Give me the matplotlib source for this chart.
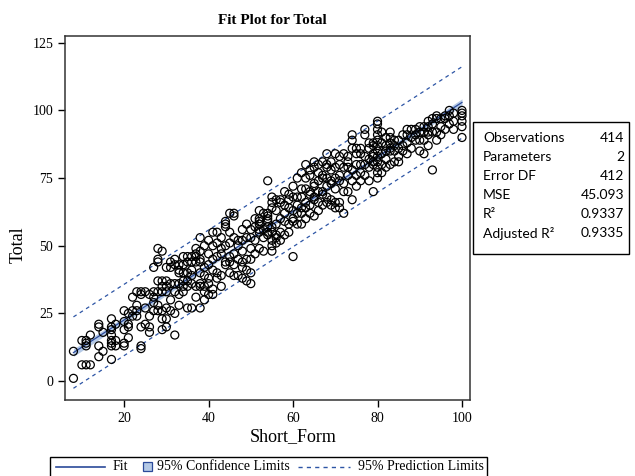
import numpy as np
import matplotlib.pyplot as plt
from matplotlib.lines import Line2D
from matplotlib.patches import Rectangle

form_scores = [8, 10, 11, 12, 14, 15, 17, 18, 20, 21, 22, 23, 24, 25, 26, 27, 28, 29,
               30, 31, 32, 33, 34, 35, 36, 37, 38, 39, 40, 41, 42, 43, 44, 45, 46, 47,
               48, 49, 50, 51, 52, 53, 54, 55, 56, 57, 58, 59, 60, 61, 62, 63, 64,
               65, 66, 67, 68, 69, 70, 71, 72, 73, 74, 75, 76, 77, 78, 79, 80, 81,
               82, 83, 84, 85, 86, 87, 88, 89, 90, 91, 92, 93, 94, 95, 96, 97, 98,
               100]
total_scores = [
    [1, 11], [6, 15], [6, 13, 14, 15], [6, 17], [9, 13, 20, 21], [11, 18],
    [8, 13, 14, 15, 17, 19, 20, 23], [13, 15, 21], [13, 14, 19, 22, 26],
    [16, 20, 21, 25], [24, 26, 31], [24, 26, 28, 33], [12, 13, 20, 32, 33],
    [21, 27, 33], [18, 20, 24, 32], [26, 29, 31, 33, 42],
    [26, 28, 33, 37, 44, 45, 49], [19, 23, 26, 33, 35, 37, 48],
    [20, 23, 27, 33, 35, 37, 42], [26, 30, 36, 42, 44], [17, 25, 33, 36, 43, 45],
    [28, 32, 36, 40, 41, 43], [33, 35, 37, 40, 43, 46], [27, 35, 37, 40, 44, 46],
    [27, 36, 39, 41, 44, 46], [31, 35, 44, 46, 47, 49],
    [27, 35, 36, 40, 44, 45, 48, 53], [30, 33, 35, 39, 42, 50],
    [32, 36, 38, 43, 47, 52], [32, 34, 41, 45, 50, 55], [38, 40, 46, 51, 55],
    [35, 39, 47, 49, 53], [43, 44, 50, 57, 58, 59], [40, 44, 46, 51, 55, 62],
    [39, 43, 47, 53, 61, 62], [39, 45, 50, 52], [38, 42, 44, 48, 52, 56],
    [37, 41, 45, 53, 58], [36, 40, 45, 49, 53, 56], [47, 52, 57, 60],
    [49, 55, 56, 58, 59, 60, 63], [48, 53, 56, 62], [54, 55, 57, 59, 60, 61, 62, 74],
    [48, 50, 52, 55, 57, 64, 66, 68], [51, 53, 54, 58, 63, 67], [52, 55, 60, 66, 67],
    [54, 59, 62, 65, 70], [55, 58, 64, 67, 69], [46, 59, 60, 63, 68, 72],
    [58, 62, 65, 68, 75], [58, 62, 64, 68, 71, 77], [60, 64, 66, 71, 75, 80],
    [62, 65, 69, 70, 76, 78], [61, 67, 68, 72, 73, 79, 81], [63, 66, 70, 74, 77, 80],
    [65, 69, 70, 75, 76, 81], [66, 68, 72, 75, 79, 80, 84], [65, 67, 73, 74, 78, 81],
    [64, 66, 71, 75, 79, 84], [64, 66, 74, 76, 80, 83], [62, 70, 73, 79, 84],
    [70, 76, 79, 81, 83], [67, 74, 78, 86, 89, 91], [72, 76, 80, 84, 86],
    [74, 77, 80, 84, 86], [76, 80, 83, 91, 93], [74, 79, 82, 86, 88],
    [70, 80, 81, 83, 84, 87, 88],
    [75, 77, 79, 81, 83, 85, 87, 89, 91, 93, 95, 96], [77, 80, 84, 88, 92],
    [79, 82, 85, 87, 90], [80, 85, 86, 88, 90, 92], [81, 85, 87, 89], [81, 83, 86, 89],
    [85, 87, 91], [84, 88, 91, 93], [86, 90, 93], [89, 91, 93], [85, 89, 92, 94],
    [84, 89, 92, 94], [87, 91, 92, 94, 96], [78, 92, 95, 97], [89, 92, 97, 98],
    [91, 94, 97], [93, 97, 98], [95, 98, 100], [93, 96, 99],
    [90, 94, 96, 98, 99, 100],
]

stat_labels = ['Observations', 'Parameters', 'Error DF', 'MSE', 'R\u00b2', 'Adjusted R\u00b2']
stat_values = ['414', '2', '412', '45.093', '0.9337', '0.9335']

x = np.repeat(form_scores, [len(t) for t in total_scores]).astype(float)
y = np.concatenate([np.array(t, dtype=float) for t in total_scores])

# least squares fit with 95% confidence and prediction limits
slope, intercept = np.polyfit(x, y, 1)
n = len(x)
mse = np.sum((y - (intercept + slope * x)) ** 2) / (n - 2)
sxx = np.sum((x - x.mean()) ** 2)
t_crit = 1.966
xs = np.linspace(x.min(), x.max(), 200)
fit = intercept + slope * xs
conf = t_crit * np.sqrt(mse * (1 / n + (xs - x.mean()) ** 2 / sxx))
pred = t_crit * np.sqrt(mse * (1 + 1 / n + (xs - x.mean()) ** 2 / sxx))

W, H = 635, 476
serif = 'Liberation Serif'
fit_color = '#2b4a9a'
band_color = '#b4c9e6'
dash_color = '#2d55a5'

fig = plt.figure(figsize=(W / 100, H / 100), dpi=100)
ax = fig.add_axes([65 / W, 1 - 400 / H, (470 - 65) / W, (400 - 36) / H])

ax.fill_between(xs, fit - conf, fit + conf, color=band_color, lw=0, zorder=1)
ax.plot(xs, fit, color=fit_color, lw=0.9, zorder=2)
ax.plot(xs, fit + pred, color=dash_color, lw=0.9, ls=(0, (3, 3)), zorder=2)
ax.plot(xs, fit - pred, color=dash_color, lw=0.9, ls=(0, (3, 3)), zorder=2)
ax.scatter(x, y, s=33, facecolors='none', edgecolors='black', linewidths=0.9, zorder=3)

ax.set_xlim(6.0, 101.9)
ax.set_ylim(-7, 127.5)
ax.set_xticks([20, 40, 60, 80, 100])
ax.set_yticks([0, 25, 50, 75, 100, 125])
ax.tick_params(direction='out', length=5, width=1, labelsize=10, colors='black')
for lab in ax.get_xticklabels() + ax.get_yticklabels():
    lab.set_family(serif)
for sp in ax.spines.values():
    sp.set_linewidth(1.1)
    sp.set_color('#333333')

fig.text(272 / W, 1 - 20 / H, 'Fit Plot for Total', ha='center', va='center',
         family=serif, fontsize=11, fontweight='bold')
fig.text(293 / W, 1 - 437 / H, 'Short_Form', ha='center', va='center',
         family=serif, fontsize=13)
fig.text(18 / W, 1 - 245 / H, 'Total', ha='center', va='center', rotation=90,
         family=serif, fontsize=13)

# statistics inset
fig.add_artist(Rectangle((473 / W, 1 - 254 / H), (629 - 473) / W, (254 - 122) / H,
                         transform=fig.transFigure, fill=False, ec='black', lw=1))
for i, (lab, val) in enumerate(zip(stat_labels, stat_values)):
    yy = 1 - (138 + 19 * i) / H
    fig.text(483 / W, yy, lab, ha='left', va='center', family='Lato', fontsize=10)
    fig.text(624 / W, yy, val, ha='right', va='center', family='Lato', fontsize=10)

# legend strip at the bottom
fig.add_artist(Rectangle((50 / W, -0.01), (487 - 50) / W, 0.01 + (476 - 457) / H,
                         transform=fig.transFigure, fill=False, ec='black', lw=1))
ly = 1 - 467 / H
fig.add_artist(Line2D([56 / W, 105 / W], [ly, ly], transform=fig.transFigure,
                      color=fit_color, lw=1.2))
fig.text(113 / W, ly, 'Fit', ha='left', va='center', family=serif, fontsize=10)
fig.add_artist(Rectangle((143 / W, 1 - 471 / H), 9 / W, 9 / H, transform=fig.transFigure,
                         fc=band_color, ec=fit_color, lw=0.9))
fig.text(157 / W, ly, '95% Confidence Limits', ha='left', va='center', family=serif,
         fontsize=10)
fig.add_artist(Line2D([298 / W, 350 / W], [ly, ly], transform=fig.transFigure,
                      color=dash_color, lw=1, ls=(0, (3, 3))))
fig.text(358 / W, ly, '95% Prediction Limits', ha='left', va='center', family=serif,
         fontsize=10)

fig.savefig('out.png', dpi=100)
